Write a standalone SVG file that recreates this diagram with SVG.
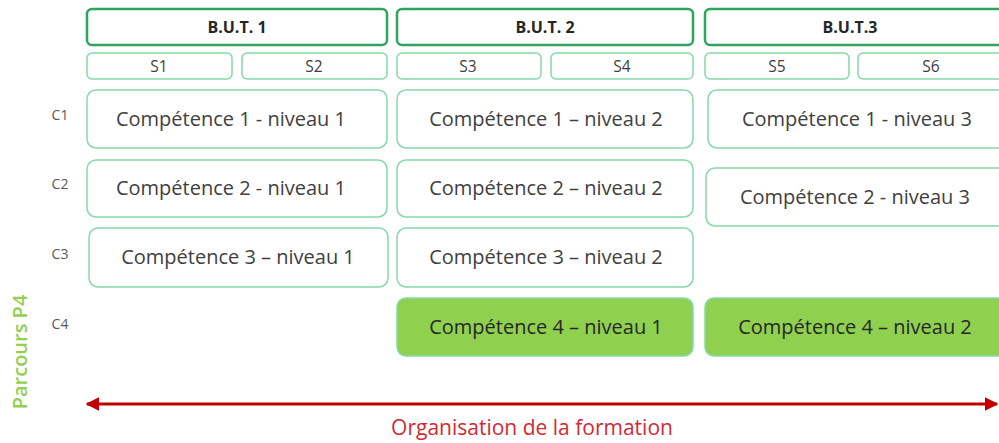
<svg xmlns="http://www.w3.org/2000/svg" width="999" height="443" viewBox="0 0 999 443">
<defs>
<style>
.hdr{fill:#fff;stroke:#2ea55c;stroke-width:2.5}
.sem{fill:#fff;stroke:#86d9a9;stroke-width:1.5}
.box{fill:#fff;stroke:#86d9a9;stroke-width:1.5}
.grn{fill:#8fd14f;stroke:#86d9a9;stroke-width:1.5}
.t{font-family:"Open Sans","Liberation Sans",sans-serif;fill:#404040;text-anchor:middle}
.th{font-size:16px;font-weight:bold;fill:#262626}
.ts{font-size:15.5px}
.tc{font-size:20px}
.tg{font-size:20px;fill:#262626}
.lab{font-family:"Open Sans","Liberation Sans",sans-serif;font-size:14px;fill:#595959;text-anchor:middle}
</style>
<marker id="ah" viewBox="0 0 10 10" refX="9" refY="5" markerWidth="4.5" markerHeight="4.5" orient="auto-start-reverse" markerUnits="strokeWidth">
<path d="M0,0 L10,5 L0,10 z" fill="#c00000"/>
</marker>
</defs>
<rect width="999" height="443" fill="#fff"/>
<g id="but1"><rect class="hdr" x="87" y="9" width="300" height="36" rx="5"/><text class="t th" x="237" y="33">B.U.T. 1</text></g>
<g id="but2"><rect class="hdr" x="397" y="9" width="296" height="36" rx="5"/><text class="t th" x="545" y="33">B.U.T. 2</text></g>
<g id="but3"><rect class="hdr" x="705" y="9" width="310" height="36" rx="5"/><text class="t th" x="850" y="33">B.U.T.3</text></g>
<g id="s1"><rect class="sem" x="87" y="53" width="145" height="26" rx="5"/><text class="t ts" x="159" y="72">S1</text></g>
<g id="s2"><rect class="sem" x="242" y="53" width="145" height="26" rx="5"/><text class="t ts" x="314" y="72">S2</text></g>
<g id="s3"><rect class="sem" x="397" y="53" width="144" height="26" rx="5"/><text class="t ts" x="468" y="72">S3</text></g>
<g id="s4"><rect class="sem" x="551" y="53" width="142" height="26" rx="5"/><text class="t ts" x="622" y="72">S4</text></g>
<g id="s5"><rect class="sem" x="705" y="53" width="144" height="26" rx="5"/><text class="t ts" x="777" y="72">S5</text></g>
<g id="s6"><rect class="sem" x="858" y="53" width="150" height="26" rx="5"/><text class="t ts" x="931" y="72">S6</text></g>
<g id="c1l"><text class="lab" x="60" y="120">C1</text></g>
<g id="c2l"><text class="lab" x="60" y="189">C2</text></g>
<g id="c3l"><text class="lab" x="60" y="259">C3</text></g>
<g id="c4l"><text class="lab" x="60" y="329">C4</text></g>
<g id="c1n1"><rect class="box" x="87" y="90" width="300" height="58" rx="9"/><text class="t tc" x="231" y="126">Compétence 1 - niveau 1</text></g>
<g id="c1n2"><rect class="box" x="397" y="90" width="296" height="58" rx="9"/><text class="t tc" x="546" y="126">Compétence 1 – niveau 2</text></g>
<g id="c1n3"><rect class="box" x="708" y="90" width="310" height="58" rx="9"/><text class="t tc" x="857" y="126">Compétence 1 -  niveau 3</text></g>
<g id="c2n1"><rect class="box" x="87" y="160" width="300" height="57" rx="9"/><text class="t tc" x="231" y="195">Compétence 2 - niveau 1</text></g>
<g id="c2n2"><rect class="box" x="397" y="160" width="296" height="57" rx="9"/><text class="t tc" x="546" y="195">Compétence 2 – niveau 2</text></g>
<g id="c2n3"><rect class="box" x="706" y="168" width="310" height="58" rx="9"/><text class="t tc" x="855" y="204">Compétence 2 -  niveau 3</text></g>
<g id="c3n1"><rect class="box" x="89" y="228" width="299" height="59" rx="9"/><text class="t tc" x="238" y="264">Compétence 3 – niveau 1</text></g>
<g id="c3n2"><rect class="box" x="397" y="228" width="296" height="59" rx="9"/><text class="t tc" x="546" y="264">Compétence 3 – niveau 2</text></g>
<g id="c4n1"><rect class="grn" x="397" y="298" width="296" height="58" rx="9"/><text class="t tg" x="546" y="334">Compétence 4 – niveau 1</text></g>
<g id="c4n2"><rect class="grn" x="705" y="298" width="310" height="58" rx="9"/><text class="t tg" x="855" y="334">Compétence 4 – niveau 2</text></g>
<g id="parcours"><text transform="translate(27,352) rotate(-90)" font-family="'Open Sans','Liberation Sans',sans-serif" font-size="20" font-weight="600" fill="#92d050" text-anchor="middle">Parcours P4</text></g>
<g id="connectors"><line x1="87" y1="404" x2="997" y2="404" stroke="#c00000" stroke-width="3" marker-start="url(#ah)" marker-end="url(#ah)"/></g>
<g id="axis-label"><text x="532" y="435" font-family="'Open Sans','Liberation Sans',sans-serif" font-size="21" fill="#d02a36" text-anchor="middle">Organisation de la formation</text></g>
</svg>
